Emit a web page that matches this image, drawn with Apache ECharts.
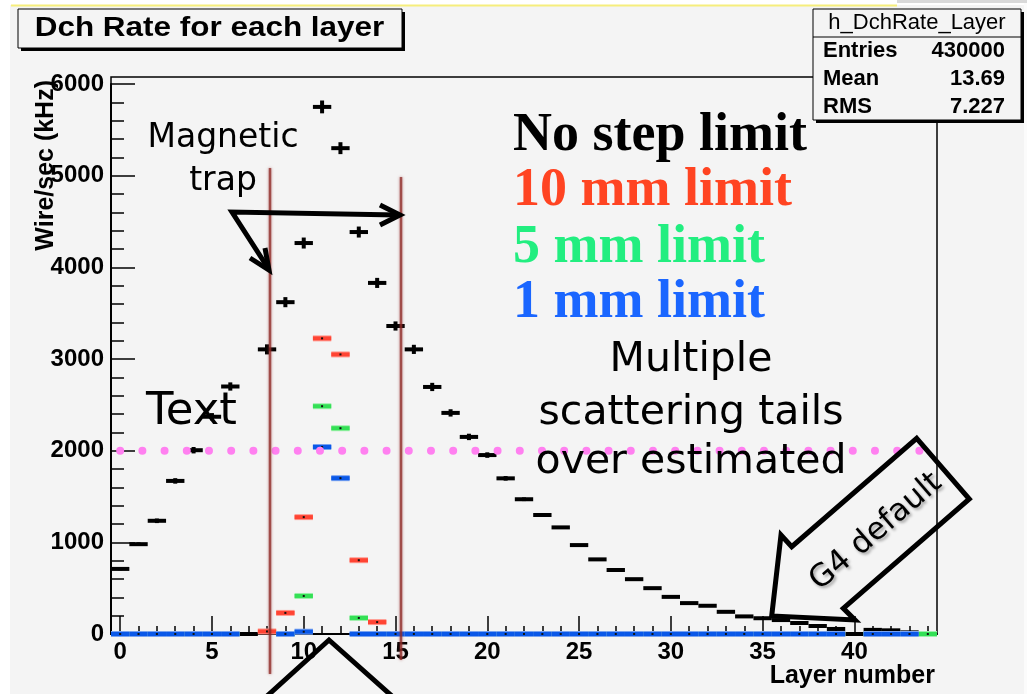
<!DOCTYPE html>
<html>
<head>
<meta charset="utf-8">
<script src="https://cdn.jsdelivr.net/npm/echarts@6/dist/echarts.min.js"></script>
<style>
  html, body { margin: 0; padding: 0; background: #ffffff; }
  #chart { width: 1027px; height: 694px; }
</style>
</head>
<body>
<div id="chart"></div>
<script>
// Layer numbers (one bin per drift-chamber layer)
const layerLabels = ['0','1','2','3','4','5','6','7','8','9','10','11','12','13','14',
  '15','16','17','18','19','20','21','22','23','24','25','26','27','28','29',
  '30','31','32','33','34','35','36','37','38','39','40','41','42','43','44'];

// Rate per wire (kHz) with no step limit, and its statistical error
const noLimit = [710, 980, 1235, 1670, 2005, 2370, 2700, 0, 3105, 3620,
  4265, 5750, 5300, 4385, 3830, 3360, 3105, 2695, 2412, 2150,
  1952, 1698, 1470, 1298, 1163, 970, 814, 698, 598, 500,
  405, 337, 308, 242, 192, 172, 152, 120, 87, 55,
  0, 45, 40, 18, 0];
const noLimitErr = [15, 20, 25, 30, 35, 40, 45, 0, 55, 55,
  60, 70, 65, 60, 55, 50, 50, 45, 40, 35,
  30, 25, 20, 15, 12, 10, 10, 8, 8, 6,
  5, 5, 5, 4, 4, 4, 3, 3, 3, 2,
  0, 2, 2, 1, 0];

// 10 mm step limit
const limit10mm = [0, 0, 0, 0, 0, 0, 0, null, 28, 230,
  1275, 3225, 3050, 805, 130, 0, 0, 0, 0, 0,
  0, 0, 0, 0, 0, 0, 0, 0, 0, 0,
  0, 0, 0, 0, 0, 0, 0, 0, 0, 0,
  null, 0, 0, 0, 0];
// 5 mm step limit
const limit5mm = [0, 0, 0, 0, 0, 0, 0, null, null, 0,
  415, 2485, 2245, 175, 0, 0, 0, 0, 0, 0,
  0, 0, 0, 0, 0, 0, 0, 0, 0, 0,
  0, 0, 0, 0, 0, 0, 0, 0, 0, 0,
  null, 0, 0, 0, 0];
// 1 mm step limit
const limit1mm = [0, 0, 0, 0, 0, 0, 0, null, null, 0,
  25, 2040, 1700, 0, 0, 0, 0, 0, 0, 0,
  0, 0, 0, 0, 0, 0, 0, 0, 0, 0,
  0, 0, 0, 0, 0, 0, 0, 0, 0, 0,
  null, 0, 0, 0, null];

// Dotted reference level (kHz)
const refLevel = 2000;

// Statistics box
const statsTitle = 'h_DchRate_Layer';
const statsRows = [['Entries', '430000'], ['Mean', '13.69'], ['RMS', '7.227']];

const chart = echarts.init(document.getElementById('chart'));

// Black marker: horizontal bin-wide bar plus vertical error bar
function crossItem(params, api) {
  const v = api.value(1);
  if (isNaN(v)) return null;
  const x = api.value(0);
  const c = api.coord([x, v]);
  const w = api.size([1, 0])[0];
  const e = api.value(2);
  const top = api.coord([x, v + e])[1];
  const bot = api.coord([x, Math.max(v - e, 0)])[1];
  return {
    type: 'group',
    children: [
      { type: 'rect', shape: { x: c[0] - w / 2, y: c[1] - 2, width: w, height: 4 }, style: { fill: '#000' } },
      { type: 'rect', shape: { x: c[0] - 2, y: top, width: 4, height: Math.max(bot - top, 0) }, style: { fill: '#000' } }
    ]
  };
}

// Coloured marker: bin-wide bar with a soft halo and a tiny central point
function barRenderer(color, halo) {
  return function (params, api) {
    const v = api.value(1);
    if (isNaN(v)) return null;
    const c = api.coord([api.value(0), v]);
    const w = api.size([1, 0])[0];
    return {
      type: 'group',
      children: [
        { type: 'rect', shape: { x: c[0] - w / 2, y: c[1] - 3, width: w, height: 6 },
          style: { fill: halo } },
        { type: 'rect', shape: { x: c[0] - w / 2, y: c[1] - 2, width: w, height: 4 },
          style: { fill: color } },
        { type: 'rect', shape: { x: c[0] - 1, y: c[1] - 1, width: 2, height: 2 }, style: { fill: '#111' } }
      ]
    };
  };
}

function toData(values) {
  return values.map((v, i) => [i, v == null ? '-' : v]);
}

const axisFont = { fontFamily: 'Liberation Sans', fontWeight: 'bold', fontSize: 24, color: '#000' };
const sansText = 'DejaVu Sans';

function label(text, x, y, size, opts) {
  return { type: 'text', z: 30, x: x, y: y,
    style: Object.assign({ text: text, verticalAlign: 'middle', fontFamily: sansText, fontSize: size, fill: '#000' }, opts || {}) };
}

const graphics = [
  // page edges
  { type: 'rect', z: 50, shape: { x: 0, y: 0, width: 10, height: 694 }, style: { fill: '#ffffff' } },
  { type: 'rect', z: 50, shape: { x: 0, y: 0, width: 1027, height: 5 }, style: { fill: '#ffffff' } },
  { type: 'rect', z: 50, shape: { x: 1024, y: 0, width: 3, height: 694 }, style: { fill: '#fbfbfb' } },
  { type: 'line', z: 51, shape: { x1: 11, y1: 5.5, x2: 897, y2: 5.5 }, style: { stroke: '#f6ee7c', lineWidth: 2 } },
  { type: 'rect', z: 51, shape: { x: 897, y: 0, width: 130, height: 3 }, style: { fill: '#d9d9d9' } },

  // frame
  { type: 'rect', z: 1, shape: { x: 111, y: 77, width: 826, height: 557 },
    style: { fill: 'none', stroke: '#000', lineWidth: 1.5 } },

  // title box
  { type: 'rect', z: 20, shape: { x: 21, y: 12, width: 384, height: 39 }, style: { fill: '#000' } },
  { type: 'rect', z: 21, shape: { x: 18, y: 9, width: 384, height: 39 },
    style: { fill: '#f4f4f4', stroke: '#000', lineWidth: 1 } },
  { type: 'text', z: 22, x: 209.5, y: 28.5, scaleX: 1.165,
    style: { text: 'Dch Rate for each layer', align: 'center', verticalAlign: 'middle',
      fontFamily: 'Liberation Sans', fontWeight: 'bold', fontSize: 27, fill: '#000' } },

  // statistics box
  { type: 'rect', z: 20, shape: { x: 816, y: 12, width: 208, height: 111 }, style: { fill: '#000' } },
  { type: 'rect', z: 21, shape: { x: 813, y: 9, width: 208, height: 111 },
    style: { fill: '#f4f4f4', stroke: '#000', lineWidth: 1 } },
  { type: 'line', z: 22, shape: { x1: 813, y1: 37, x2: 1021, y2: 37 }, style: { stroke: '#000', lineWidth: 1 } },
  { type: 'text', z: 22, x: 917, y: 23,
    style: { text: statsTitle, align: 'center', verticalAlign: 'middle',
      fontFamily: 'Liberation Sans', fontSize: 22, fill: '#000' } },

  // axis titles
  { type: 'text', z: 22, x: 46, y: 80, rotation: Math.PI / 2,
    style: { text: 'Wire/sec (kHz)', align: 'right', verticalAlign: 'middle',
      fontFamily: 'Liberation Sans', fontWeight: 'bold', fontSize: 25, fill: '#000' } },
  { type: 'text', z: 22, x: 935, y: 676,
    style: { text: 'Layer number', align: 'right', verticalAlign: 'middle',
      fontFamily: 'Liberation Sans', fontWeight: 'bold', fontSize: 25, fill: '#000' } },

  // legend text
  label('No step limit', 513, 136, 54, { fontFamily: 'Liberation Serif', fontWeight: 'bold' }),
  label('10 mm limit', 513, 191, 54, { fontFamily: 'Liberation Serif', fontWeight: 'bold', fill: '#ff4422' }),
  label('5 mm limit', 513, 248, 54, { fontFamily: 'Liberation Serif', fontWeight: 'bold', fill: '#22ee80' }),
  label('1 mm limit', 513, 303, 54, { fontFamily: 'Liberation Serif', fontWeight: 'bold', fill: '#1a66ff' }),

  // annotations
  label('Magnetic', 223, 138, 33, { align: 'center' }),
  label('trap', 223, 181, 33, { align: 'center' }),
  label('Text', 146, 412, 45),
  label('Multiple', 691, 360, 41, { align: 'center' }),
  label('scattering tails', 691, 413, 41, { align: 'center' }),
  label('over estimated', 691, 462, 41, { align: 'center' }),

  // magnetic trap boundaries
  { type: 'line', z: 25, shape: { x1: 270, y1: 168, x2: 270, y2: 674 },
    style: { stroke: '#8e2a26', lineWidth: 2.5, opacity: 0.75, shadowBlur: 3, shadowColor: 'rgba(160,60,60,0.8)' } },
  { type: 'line', z: 25, shape: { x1: 401, y1: 177, x2: 401, y2: 660 },
    style: { stroke: '#8e2a26', lineWidth: 2.5, opacity: 0.75, shadowBlur: 3, shadowColor: 'rgba(160,60,60,0.8)' } },

  // arrows pointing at the trap boundaries
  { type: 'polyline', z: 31, shape: { points: [[268, 268], [232, 212], [398, 215]] },
    style: { stroke: '#000', lineWidth: 5, fill: null, lineJoin: 'miter' } },
  { type: 'polyline', z: 31, shape: { points: [[250, 258], [269, 270], [265, 248]] },
    style: { stroke: '#000', lineWidth: 5, fill: null, lineJoin: 'miter' } },
  { type: 'polyline', z: 31, shape: { points: [[380, 205], [400, 215], [380, 225]] },
    style: { stroke: '#000', lineWidth: 5, fill: null, lineJoin: 'miter' } },

  // chevron below the axis
  { type: 'polyline', z: 31, shape: { points: [[266, 697], [329, 640], [393, 697]] },
    style: { stroke: '#000', lineWidth: 5, fill: null, lineJoin: 'miter' } },

  // G4 default block arrow
  { type: 'polygon', z: 31, shape: { points: [[916.7, 438.3], [969.3, 499], [843.3, 608.3], [855, 620], [771.7, 616], [781, 535], [791.7, 546.7]] },
    style: { fill: null, stroke: '#000', lineWidth: 5, lineJoin: 'miter' } },
  { type: 'text', z: 32, x: 876, y: 532, rotation: 0.71,
    style: { text: 'G4 default', align: 'center', verticalAlign: 'middle', fontFamily: sansText, fontSize: 31, fill: '#000',
      textShadowColor: 'rgba(0,0,0,0.35)', textShadowBlur: 3, textShadowOffsetX: 2, textShadowOffsetY: 2 } }
];

// statistics rows, laid out below the box header
statsRows.forEach((row, k) => {
  const y = 51 + k * 28;
  graphics.push({ type: 'text', z: 22, x: 823, y: y,
    style: { text: row[0], verticalAlign: 'middle', fontFamily: 'Liberation Sans', fontWeight: 'bold', fontSize: 22, fill: '#000' } });
  graphics.push({ type: 'text', z: 22, x: 1005, y: y,
    style: { text: row[1], align: 'right', verticalAlign: 'middle', fontFamily: 'Liberation Sans', fontWeight: 'bold', fontSize: 22, fill: '#000' } });
});

const option = {
  backgroundColor: '#f4f4f4',
  animation: false,
  grid: { left: 111, right: 90, top: 84, bottom: 60, containLabel: false },
  xAxis: [
    {
      type: 'category',
      data: layerLabels,
      boundaryGap: true,
      axisLine: { show: true, onZero: false, lineStyle: { color: '#000', width: 2 } },
      axisTick: { show: true, inside: true, length: 8, alignWithLabel: true, interval: 0, lineStyle: { color: '#000', width: 1.5 } },
      axisLabel: Object.assign({ interval: (i) => i % 5 === 0, margin: 6 }, axisFont),
      splitLine: { show: false }
    },
    {
      type: 'category',
      data: layerLabels,
      position: 'bottom',
      boundaryGap: true,
      axisLine: { show: false },
      axisTick: { show: true, inside: true, length: 18, alignWithLabel: true, interval: (i) => i % 5 === 0, lineStyle: { color: '#000', width: 1.5 } },
      axisLabel: { show: false },
      splitLine: { show: false }
    }
  ],
  yAxis: {
    type: 'value',
    min: 0,
    max: 6000,
    interval: 1000,
    axisLine: { show: true, lineStyle: { color: '#000', width: 2 } },
    axisTick: { show: true, inside: true, length: 24, lineStyle: { color: '#000', width: 1.5 } },
    minorTick: { show: true, splitNumber: 5, length: 13, lineStyle: { color: '#000', width: 1.5 } },
    axisLabel: Object.assign({ margin: 7, formatter: (v) => String(v) }, axisFont),
    splitLine: { show: false }
  },
  series: [
    {
      name: 'No step limit', type: 'custom', z: 2, clip: false,
      renderItem: crossItem,
      encode: { x: 0, y: 1 },
      data: noLimit.map((v, i) => [i, v, noLimitErr[i]])
    },
    {
      name: '10 mm limit', type: 'custom', z: 3, clip: false,
      renderItem: barRenderer('#ff4433', '#ff9a90'),
      encode: { x: 0, y: 1 },
      data: toData(limit10mm)
    },
    {
      name: '5 mm limit', type: 'custom', z: 4, clip: false,
      renderItem: barRenderer('#33e055', '#9cf0aa'),
      encode: { x: 0, y: 1 },
      data: toData(limit5mm)
    },
    {
      name: '1 mm limit', type: 'custom', z: 5, clip: false,
      renderItem: barRenderer('#0a58e8', '#78a2f0'),
      encode: { x: 0, y: 1 },
      data: toData(limit1mm)
    },
    {
      name: 'reference', type: 'line', z: 6, silent: true,
      symbol: 'none',
      data: [[0, refLevel], [layerLabels.length - 1, refLevel]],
      lineStyle: { color: '#ff80f0', width: 8, type: [0, 22.2], cap: 'round' }
    }
  ],
  graphic: graphics
};

chart.setOption(option);
</script>
</body>
</html>
